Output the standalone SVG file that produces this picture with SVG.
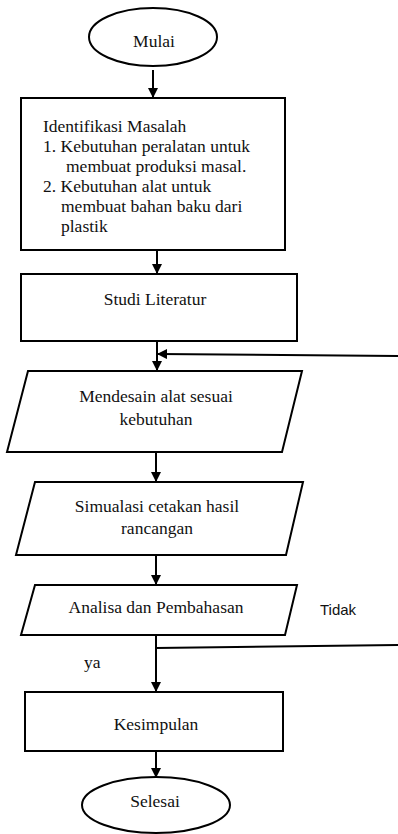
<svg xmlns="http://www.w3.org/2000/svg" width="398" height="834" viewBox="0 0 398 834">
<defs>
<marker id="ah" markerWidth="10" markerHeight="10" refX="9" refY="5" orient="auto" markerUnits="userSpaceOnUse">
<path d="M0,0 L10,5 L0,10 Z" fill="#000"/>
</marker>
<style>
.s{fill:#fff;stroke:#000;stroke-width:2}
.t{font-family:"Liberation Serif","Times New Roman",Tinos,"DejaVu Serif",serif;font-size:17.5px;fill:#111}
.c{text-anchor:middle}
.l{fill:none;stroke:#000;stroke-width:2}
.sans{font-family:"Liberation Sans",Arial,sans-serif;font-size:15px;fill:#111}
</style>
</defs>
<rect width="398" height="834" fill="#fff"/>
<g id="connectors">
<line class="l" x1="153" y1="70" x2="153" y2="97" marker-end="url(#ah)"/>
<line class="l" x1="157" y1="250" x2="157" y2="273" marker-end="url(#ah)"/>
<line class="l" x1="157" y1="341" x2="157" y2="370" marker-end="url(#ah)"/>
<line class="l" x1="398" y1="356" x2="158" y2="354" marker-end="url(#ah)"/>
<line class="l" x1="156" y1="452" x2="156" y2="481" marker-end="url(#ah)"/>
<line class="l" x1="156" y1="555" x2="156" y2="584" marker-end="url(#ah)"/>
<line class="l" x1="156" y1="635" x2="156" y2="691" marker-end="url(#ah)"/>
<line class="l" x1="156" y1="648" x2="398" y2="645"/>
<line class="l" x1="156" y1="751" x2="156" y2="777" marker-end="url(#ah)"/>
<text class="sans" x="320" y="615">Tidak</text>
<text class="t" x="84" y="668">ya</text>
</g>
<g id="mulai">
<ellipse class="s" cx="153" cy="37" rx="64" ry="29"/>
<text class="t c" x="154" y="47">Mulai</text>
</g>
<g id="identifikasi">
<rect class="s" x="21" y="98" width="264" height="152"/>
<text class="t" x="43" y="132">Identifikasi Masalah</text>
<text class="t" x="43" y="152">1. Kebutuhan peralatan untuk</text>
<text class="t" x="66" y="172">membuat produksi masal.</text>
<text class="t" x="43" y="192">2. Kebutuhan alat untuk</text>
<text class="t" x="61" y="212">membuat bahan baku dari</text>
<text class="t" x="61" y="232">plastik</text>
</g>
<g id="studi">
<rect class="s" x="21" y="274" width="276" height="67"/>
<text class="t c" x="155" y="305">Studi Literatur</text>
</g>
<g id="mendesain">
<polygon class="s" points="28,371 302,371 282,452 7,452"/>
<text class="t c" x="156" y="402">Mendesain alat sesuai</text>
<text class="t c" x="156" y="425">kebutuhan</text>
</g>
<g id="simulasi">
<polygon class="s" points="35,482 303,482 286,555 16,555"/>
<text class="t c" x="157" y="512">Simualasi cetakan hasil</text>
<text class="t c" x="157" y="534">rancangan</text>
</g>
<g id="analisa">
<polygon class="s" points="35,585 297,585 285,635 21,635"/>
<text class="t c" x="156" y="613">Analisa dan Pembahasan</text>
</g>
<g id="kesimpulan">
<rect class="s" x="25" y="692" width="258" height="59"/>
<text class="t c" x="156" y="730">Kesimpulan</text>
</g>
<g id="selesai">
<ellipse class="s" cx="156" cy="805" rx="74" ry="28"/>
<text class="t c" x="155" y="807">Selesai</text>
</g>
</svg>
